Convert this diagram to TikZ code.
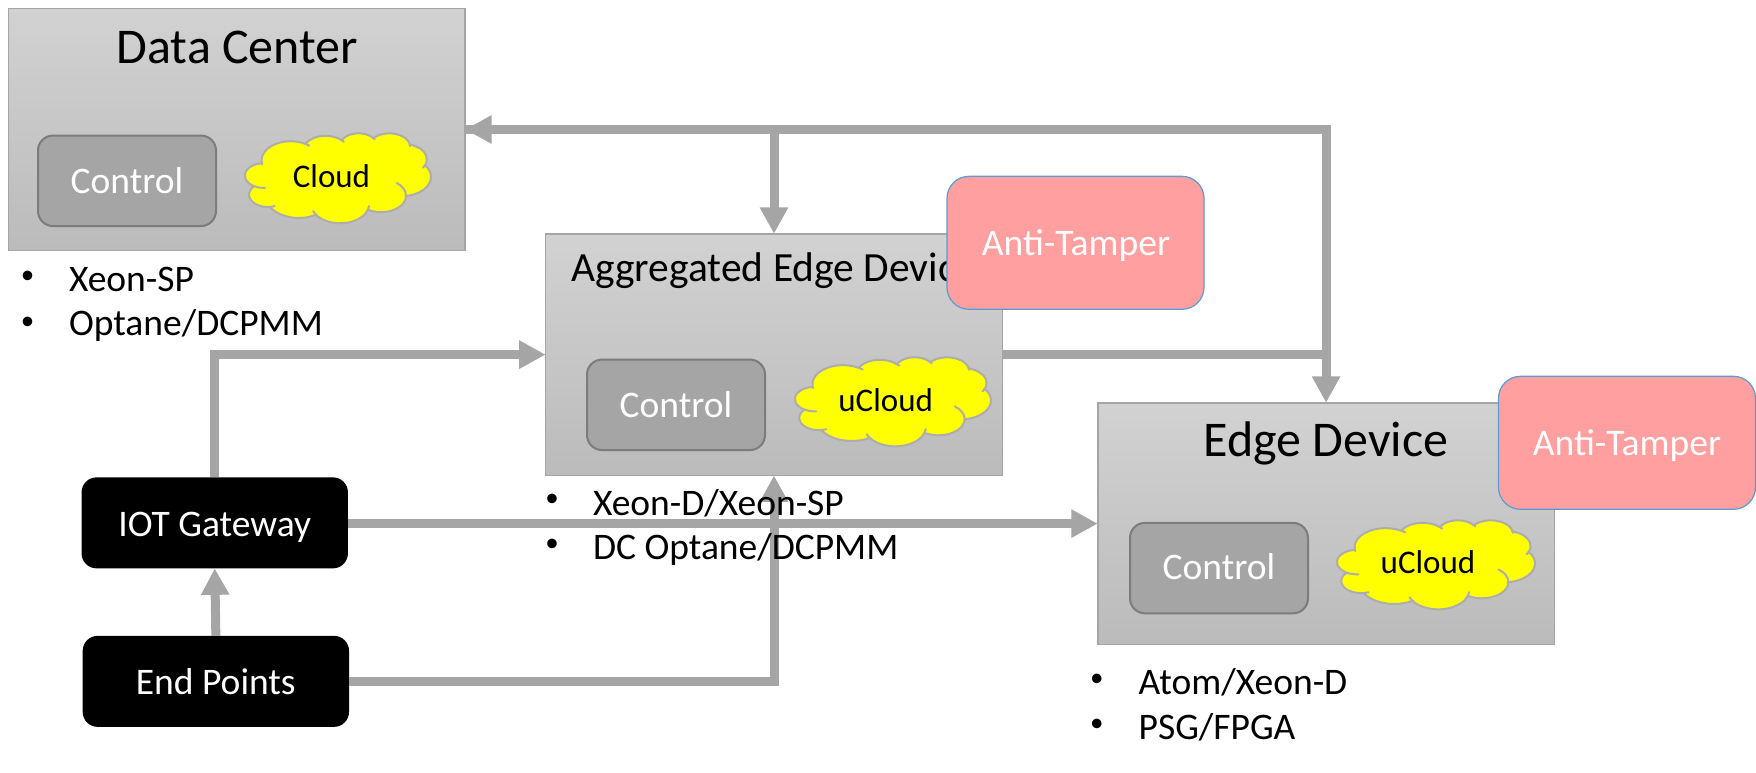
\documentclass[tikz,border=0pt]{standalone}
\usepackage{fontspec}
\setmainfont{Carlito}
\usetikzlibrary{arrows.meta,calc}
\makeatletter
\gdef\cloudpath{}
\newcommand\ca[6]{%
  \pgfmathsetmacro\tA{atan2(#1*sin(#3),#2*cos(#3))}%
  \pgfmathsetmacro\tB{\tA+Mod(atan2(#1*sin(#3+#4),#2*cos(#3+#4))-\tA,360)}%
  \pgfmathsetmacro\tC{\tA-Mod(\tA-atan2(#1*sin(#3-#5),#2*cos(#3-#5)),360)}%
  \pgfmathsetmacro\tD{\tB+Mod(atan2(#1*sin(#3+#4+#6),#2*cos(#3+#4+#6))-\tB,360)}%
  \xdef\cloudpath{\cloudpath
    arc[x radius=#1pt,y radius=#2pt,start angle=\tA,end angle=\tC]
    arc[x radius=#1pt,y radius=#2pt,start angle=\tC,end angle=\tA]
    arc[x radius=#1pt,y radius=#2pt,start angle=\tA,end angle=\tB]
    arc[x radius=#1pt,y radius=#2pt,start angle=\tB,end angle=\tD]
    arc[x radius=#1pt,y radius=#2pt,start angle=\tD,end angle=\tB]}%
}
\ca{67.53}{91.90}{-190.487}{123.781}{6}{8}
\ca{53.33}{72.67}{-144.102}{89.945}{1}{8}
\ca{43.65}{59.45}{-145.808}{99.723}{1}{8}
\ca{48.57}{65.95}{-130.986}{117.242}{1}{8}
\ca{53.33}{72.73}{-78.709}{109.027}{1}{12}
\ca{67.75}{92.20}{-46.267}{130.269}{1}{1}
\ca{57.85}{78.67}{0.625}{114.033}{60}{1}
\ca{67.52}{92.15}{22.452}{115.173}{15}{14.08}
\ca{77.20}{105.43}{66.243}{75.711}{1}{1}
\ca{43.60}{59.18}{-274.942}{146.736}{11.4}{1}
\ca{43.45}{59.45}{-246.829}{152.519}{26.43}{1}
\makeatother
\newcommand\cloudblob[4]{%
  \begin{scope}[shift={(#1,#2)},xscale=#3/432,yscale=#4/432]
    \filldraw[fill=cloudfill,draw=cloudline,line width=2pt,line join=round]
      (39pt,143.7pt) \cloudpath -- cycle;
  \end{scope}}
\definecolor{conn}{HTML}{A5A5A5}
\definecolor{cloudfill}{HTML}{FFFF00}
\definecolor{cloudline}{HTML}{ADADAD}
\definecolor{ctrlfill}{HTML}{A5A5A5}
\definecolor{ctrlline}{HTML}{7C7C7C}
\definecolor{antifill}{HTML}{FF9F9F}
\definecolor{antiline}{HTML}{5B9BD5}
\definecolor{paneltop}{HTML}{D2D2D2}
\definecolor{panelbot}{HTML}{BBBBBB}
\tikzset{
  base box/.style={inner sep=0pt,outer sep=0pt,anchor=center},
  panel/.style={base box,top color=paneltop,bottom color=panelbot,draw=conn,line width=1.5pt,minimum width=456.6pt,minimum height=241.6pt},
  ctrl/.style={base box,rounded corners=15pt,fill=ctrlfill,draw=ctrlline,line width=2pt,minimum width=178pt,minimum height=90.5pt},
  antibox/.style={base box,rounded corners=22pt,fill=antifill,draw=antiline,line width=1.2pt,minimum width=257pt,minimum height=133pt},
  blackbox/.style={base box,rounded corners=15pt,fill=black,minimum width=266.4pt,minimum height=91pt},
  label/.style={inner sep=0pt,outer sep=0pt,anchor=base,font=\fontsize{37.5}{40}\selectfont},
  whitelabel/.style={label,text=white},
  cloudlabel/.style={label,font=\fontsize{33}{36}\selectfont},
  title/.style={label,font=\fontsize{50}{54}\selectfont},
  subtitle/.style={label,anchor=base west,font=\fontsize{41.5}{44}\selectfont},
  item/.style={label,anchor=base west},
  dot/.style={inner sep=0pt,outer sep=0pt,anchor=center,font=\fontsize{27}{30}\selectfont},
  link/.style={draw=conn,line width=9pt},
  arrowlink/.style={link,-{Triangle[length=26.5pt,width=26.7pt]}},
  biarrowlink/.style={link,line join=miter,{Triangle[length=26.5pt,width=26.7pt]}-{Triangle[length=26.5pt,width=26.7pt]}}
}
\begin{document}
\begin{tikzpicture}[x=1pt,y=1pt,yscale=-1]
\useasboundingbox (0,0) rectangle (1756,772);
% panels
\node[panel] (dc) at (236.8,129.5) {};
\node[panel] (agg) at (774,354.6) {};
\node[panel] (edge) at (1326.1,523.6) {};
\node[blackbox] (iot) at (214.75,522.85) {};
\node[blackbox] (endp) at (215.85,681.35) {};
% connectors
\coordinate (corner) at (edge.north |- dc.east);
\coordinate (branch) at (agg.north |- dc.east);
\coordinate (join) at (edge.north |- agg.east);
\draw[biarrowlink] (dc.east) -- (corner) -- (edge.north);
\draw[link] (branch) -- (dc.east);
\draw[arrowlink] (branch) -- (agg.north);
\draw[link] (agg.east) -- (join);
\draw[arrowlink] (iot.north) |- (agg.west);
\draw[arrowlink] (iot.east |- edge.west) -- (edge.west);
\draw[arrowlink] (endp.east) -| (agg.south);
\draw[arrowlink] (endp.north) -- (iot.south);
% inner boxes
\node[ctrl] (c1) at (127,180.8) {};
\node[ctrl] (c2) at (676,404.8) {};
\node[ctrl] (c3) at (1219,568.1) {};
\cloudblob{245}{133}{186}{90}
\cloudblob{795}{357}{196}{89}
\cloudblob{1337}{520}{198}{89}
% labels
\node[title] (t1) at (237.5,63) {Data Center};
\node[subtitle] (t2) at (571.4,281) {Aggregated Edge Device};
\node[title] (t3) at (1326,456.5) {Edge Device};
\node[antibox] (a1) at (1075.5,242.8) {};
\node[antibox] (a2) at (1627,442.8) {};
\node[whitelabel] (a1t) at (1076,255) {Anti-Tamper};
\node[whitelabel] (a2t) at (1627,455) {Anti-Tamper};
\node[whitelabel] (c1t) at (127,193.5) {Control};
\node[whitelabel] (c2t) at (676,417.5) {Control};
\node[whitelabel] (c3t) at (1219,579.5) {Control};
\node[cloudlabel] (k1) at (331.5,187) {Cloud};
\node[cloudlabel] (k2) at (885.7,411.5) {uCloud};
\node[cloudlabel] (k3) at (1428,573.5) {uCloud};
\node[whitelabel] (iott) at (214.7,536) {IOT Gateway};
\node[whitelabel] (endt) at (215.8,694) {End Points};
\node[dot] (b1) at (27.5,277) {•};
\node[item] (i1) at (69,291) {Xeon-SP};
\node[dot] (b2) at (27.5,323) {•};
\node[item] (i2) at (69,335) {Optane/DCPMM};
\node[dot] (b3) at (552,500.3) {•};
\node[item] (i3) at (593,515) {Xeon-D/Xeon-SP};
\node[dot] (b4) at (552,545.3) {•};
\node[item] (i4) at (593,559.5) {DC Optane/DCPMM};
\node[dot] (b5) at (1096.8,680.7) {•};
\node[item] (i5) at (1138.7,694) {Atom/Xeon-D};
\node[dot] (b6) at (1096.8,725.7) {•};
\node[item] (i6) at (1138.7,739) {PSG/FPGA};
\end{tikzpicture}
\end{document}
